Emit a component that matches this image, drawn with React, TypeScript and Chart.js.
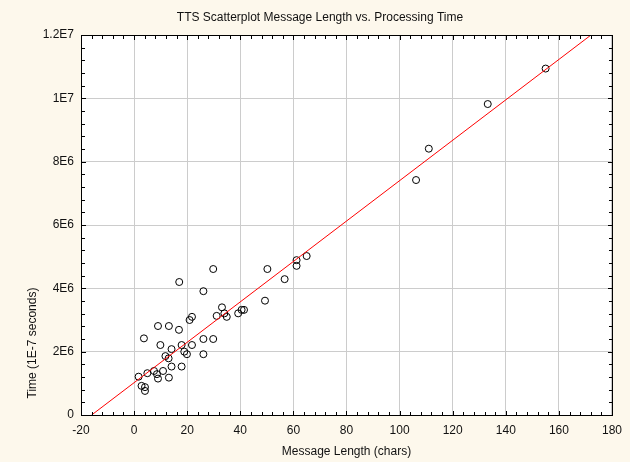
import { useEffect, useRef } from 'react';
import { Chart, registerables } from 'chart.js';

Chart.register(...registerables);

// Scatter data: message length (chars) vs processing time (1E-7 s)
const messageLength = [
  1.7, 2.8, 4.1, 4.1, 3.7, 5.0, 7.5, 8.6, 9.0, 9.0,
  9.9, 10.9, 11.8, 13.0, 13.1, 13.1, 14.1, 14.1, 16.9, 17.0,
  17.9, 17.9, 18.9, 19.9, 20.9, 21.8, 21.8, 26.1, 26.1, 26.1,
  29.8, 29.8, 31.1, 33.1, 34.0, 34.9, 39.2, 40.5, 41.4, 49.3,
  50.2, 56.7, 61.2, 61.2, 65.0, 106.2, 111.0, 133.2, 155.0,
];
const processingTime = [
  1.21e6, 0.92e6, 0.88e6, 0.76e6, 2.42e6, 1.32e6, 1.39e6, 1.29e6, 1.15e6, 2.81e6,
  2.21e6, 1.39e6, 1.86e6, 1.79e6, 1.18e6, 2.81e6, 2.08e6, 1.53e6, 2.69e6, 4.2e6,
  2.21e6, 1.53e6, 2.0e6, 1.92e6, 3.0e6, 3.1e6, 2.21e6, 3.91e6, 2.4e6, 1.92e6,
  4.61e6, 2.4e6, 3.13e6, 3.4e6, 3.21e6, 3.1e6, 3.21e6, 3.32e6, 3.32e6, 3.61e6,
  4.61e6, 4.29e6, 4.89e6, 4.71e6, 5.02e6, 7.42e6, 8.41e6, 9.82e6, 10.94e6,
];

// Fitted regression line end points
const fitLength = [-16, 172.1];
const fitTime = [0, 1.2e7];

const xTickValues = [-20, 0, 20, 40, 60, 80, 100, 120, 140, 160, 180];
const xTickLabels = ['-20', '0', '20', '40', '60', '80', '100', '120', '140', '160', '180'];
const yTickValues = [0, 2e6, 4e6, 6e6, 8e6, 1e7, 1.2e7];
const yTickLabels = ['0', '2E6', '4E6', '6E6', '8E6', '1E7', '1.2E7'];

const chartTitle = 'TTS Scatterplot Message Length vs. Processing Time';
const xTitle = 'Message Length (chars)';
const yTitle = 'Time (1E-7 seconds)';

const FONT = '"Liberation Sans", Arial, sans-serif';

function labelFor(values: number[], labels: string[], v: number) {
  for (let i = 0; i < values.length; i++) {
    if (Math.abs(values[i] - v) < 1e-6 * Math.max(1, Math.abs(v))) return labels[i];
  }
  return '';
}

const decorPlugin = {
  id: 'decor',
  beforeDraw(chart: any) {
    const { ctx, chartArea } = chart;
    ctx.save();
    ctx.fillStyle = '#ffffff';
    ctx.fillRect(chartArea.left, chartArea.top, chartArea.right - chartArea.left, chartArea.bottom - chartArea.top);
    ctx.restore();
  },
  afterDraw(chart: any) {
    const { ctx, chartArea } = chart;
    const { left, right, top, bottom } = chartArea;
    const xs = chart.scales.x;
    const ys = chart.scales.y;
    ctx.save();
    ctx.strokeStyle = '#000000';
    ctx.lineWidth = 1;
    ctx.strokeRect(left + 0.5, top + 0.5, right - left, bottom - top);

    // inward ticks
    ctx.beginPath();
    const xMin = xTickValues[0];
    const xMax = xTickValues[xTickValues.length - 1];
    const xStep = (xTickValues[1] - xTickValues[0]) / 5;
    for (let k = 0; xMin + k * xStep <= xMax + 1e-9; k++) {
      const v = xMin + k * xStep;
      const major = k % 5 === 0;
      const len = major ? 4 : 3;
      const px = Math.round(xs.getPixelForValue(v)) + 0.5;
      ctx.moveTo(px, bottom);
      ctx.lineTo(px, bottom - len);
      ctx.moveTo(px, top);
      ctx.lineTo(px, top + len + 1);
    }
    const yMin = yTickValues[0];
    const yMax = yTickValues[yTickValues.length - 1];
    const yStep = (yTickValues[1] - yTickValues[0]) / 5;
    for (let k = 0; yMin + k * yStep <= yMax + 1; k++) {
      const v = yMin + k * yStep;
      const major = k % 5 === 0;
      const len = major ? 4 : 3;
      const py = Math.round(ys.getPixelForValue(v)) + 0.5;
      ctx.moveTo(left, py);
      ctx.lineTo(left + len + 1, py);
      ctx.moveTo(right, py);
      ctx.lineTo(right - len, py);
    }
    ctx.stroke();

    // titles
    ctx.fillStyle = '#111111';
    ctx.font = '12px ' + FONT;
    ctx.textAlign = 'center';
    ctx.textBaseline = 'middle';
    ctx.fillText(chartTitle, 320, 18);
    ctx.fillText(xTitle, (left + right) / 2, 452);
    ctx.translate(33, 343);
    ctx.rotate(-Math.PI / 2);
    ctx.fillText(yTitle, 0, 0);
    ctx.restore();
  },
};

export default function App() {
  const ref = useRef<HTMLCanvasElement | null>(null);

  useEffect(() => {
    document.body.style.margin = '0';
    const canvas = ref.current;
    if (!canvas) return;
    const points = messageLength.map((x, i) => ({ x, y: processingTime[i] }));
    const fit = fitLength.map((x, i) => ({ x, y: fitTime[i] }));

    const chart = new Chart(canvas, {
      type: 'scatter',
      data: {
        datasets: [
          {
            type: 'line',
            data: fit,
            borderColor: '#ff0000',
            borderWidth: 1,
            pointRadius: 0,
            fill: false,
            tension: 0,
          } as any,
          {
            data: points,
            pointStyle: 'circle',
            pointRadius: 3.5,
            pointBorderWidth: 1,
            borderColor: '#000000',
            backgroundColor: 'rgba(255,255,255,0)',
            pointBackgroundColor: 'rgba(255,255,255,0)',
            pointBorderColor: '#000000',
          } as any,
        ],
      },
      options: {
        responsive: false,
        animation: false,
        devicePixelRatio: 1,
        layout: { padding: { left: 0, right: 18, top: 35, bottom: 0 } },
        plugins: {
          legend: { display: false },
          title: { display: false },
          tooltip: { enabled: false },
        },
        scales: {
          x: {
            type: 'linear',
            min: xTickValues[0],
            max: xTickValues[xTickValues.length - 1],
            afterBuildTicks: (scale: any) => {
              scale.ticks = xTickValues.map((v) => ({ value: v }));
            },
            afterFit: (scale: any) => {
              scale.height = 47;
            },
            grid: { color: '#cccccc', lineWidth: 1, drawTicks: false },
            border: { display: false },
            ticks: {
              padding: 8,
              color: '#111111',
              font: { family: FONT, size: 12 },
              maxRotation: 0,
              callback: (v: any) => labelFor(xTickValues, xTickLabels, Number(v)),
            },
          },
          y: {
            type: 'linear',
            min: yTickValues[0],
            max: yTickValues[yTickValues.length - 1],
            afterBuildTicks: (scale: any) => {
              scale.ticks = yTickValues.map((v) => ({ value: v }));
            },
            afterFit: (scale: any) => {
              scale.width = 81;
            },
            grid: { color: '#cccccc', lineWidth: 1, drawTicks: false },
            border: { display: false },
            ticks: {
              padding: 7,
              color: '#111111',
              font: { family: FONT, size: 12 },
              callback: (v: any) => labelFor(yTickValues, yTickLabels, Number(v)),
            },
          },
        },
      } as any,
      plugins: [decorPlugin],
    });
    return () => chart.destroy();
  }, []);

  return (
    <div style={{ position: 'fixed', left: 0, top: 0, width: 630, height: 462, background: '#fdf8ec' }}>
      <canvas ref={ref} width={630} height={462} style={{ display: 'block', width: 630, height: 462 }} />
    </div>
  );
}
